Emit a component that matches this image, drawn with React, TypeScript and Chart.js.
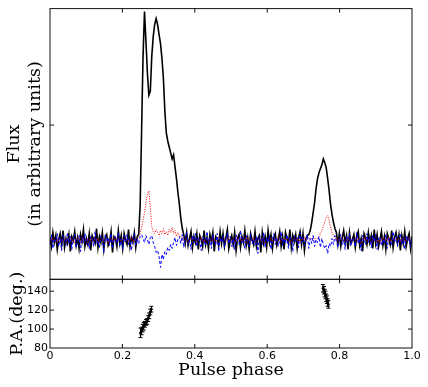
import React, { useEffect, useRef } from 'react';
import { Chart, registerables } from 'chart.js';

Chart.register(...registerables);

// Total intensity (black, solid), arbitrary units, baseline = 0
const totalFlux = [
  3, -6, 8, -2, 5, -9, 1, 7, -4, 10,
  -7, 2, -3, 6, -11, 4, 0, 9, -5, 3,
  -8, 6, -1, 11, -6, 2, -4, 7, -10, 5,
  1, -3, 12, -7, 4, -2, 8, -9, 3, 6,
  -5, -1, 9, -12, 4, 2, -6, 10, -3, 5,
  -8, 7, 0, -4, 11, -6, 3, -2, 8, -7,
  4, 6, 35, 110, 185, 230, 200, 168, 146, 150,
  185, 205, 217, 223, 217, 207, 198, 183, 163, 130,
  108, 100, 94, 88, 82, 86, 74, 62, 48, 36,
  22, 12, 6, -3, 8, -5, 2, 9, -7, 4,
  -2, 7, -9, 5, 1, -6, 10, -4, 3, -8,
  6, -1, 8, -11, 4, 2, -5, 9, -3, 7,
  -6, 3, 11, -8, 0, 5, -4, 8, -10, 2,
  6, -7, 4, -2, 10, -5, 3, -9, 7, 1,
  -4, 9, -6, 2, 5, -12, 8, -3, 4, -7,
  10, -2, 6, -8, 3, 7, -5, 1, 9, -6,
  4, -9, 8, 2, -3, 11, -7, 5, -1, 6,
  -8, 3, 9, -4, 7, -10, 2, 5, 6, 10,
  18, 28, 38, 52, 62, 68, 72, 76, 82, 78,
  73, 62, 50, 36, 26, 18, 12, 8, -4, 7,
  -6, 3, 10, -2, 5, -9, 8, -3, 1, 6,
  -7, 4, 9, -5, 2, -11, 7, 3, -4, 8,
  -2, 5, -8, 11, -3, 6, -6, 1, 9, -5,
  4, -9, 7, 2, -4, 10, -7, 3, 8, -2,
  6, -10, 5, -3, 9, -6, 2, 7, -8, 4,
];

// Linear polarization (red, dotted)
const linearPol = [
  2, -1, 3, 0, -2, 4, 1, -3, 2, 0,
  -1, 3, -2, 1, 4, -1, 2, -3, 0, 3,
  1, -2, 4, 0, -1, 2, -3, 1, 3, -2,
  0, 4, -1, 2, -2, 1, 3, -1, 0, 2,
  -3, 1, 2, -1, 4, 0, -2, 3, 1, -1,
  2, -2, 0, 3, -1, 1, 4, -2, 2, 0,
  1, 4, 7, 13, 21, 28, 38, 46, 50, 33,
  14, 9, 7, 11, 8, 5, 10, 7, 12, 6,
  9, 5, 11, 8, 13, 7, 10, 4, 8, 5,
  3, 2, -1, 1, 3, -2, 0, 2, -1, 3,
  1, -2, 2, 0, 3, -1, 1, -3, 2, 0,
  -1, 3, 0, 2, -2, 1, 4, -1, 0, 2,
  2, -1, 1, 3, -2, 0, 2, -3, 1, 3,
  0, 2, -1, 4, 1, -2, 3, 0, -1, 2,
  3, -2, 1, 0, 2, -1, 3, 1, -3, 2,
  -1, 1, 3, -2, 0, 2, -1, 4, 1, -2,
  2, 0, -1, 3, 1, -2, 2, 0, 3, -1,
  1, 3, -2, 2, 0, 4, -1, 2, 3, 1,
  2, 4, 1, 3, 2, 4, 7, 10, 14, 19,
  23, 25, 20, 14, 8, 5, 2, 3, -1, 2,
  0, 3, -2, 1, 2, -1, 4, 0, -2, 1,
  3, -1, 2, 0, -3, 2, 1, 4, -1, 0,
  2, -2, 1, 3, 0, -1, 2, -3, 1, 3,
  -1, 2, 0, 4, -2, 1, 3, -1, 0, 2,
  1, -2, 3, 0, 2, -1, 1, 3, -2, 0,
];

// Circular polarization (blue, dashed)
const circularPol = [
  -4, 6, -8, 2, -1, 7, -6, 3, -10, 5,
  1, -5, 8, -3, 4, -9, 2, 6, -7, 0,
  5, -11, 3, -2, 7, -4, 1, -8, 4, 2,
  -6, 9, -3, 0, -7, 5, 2, -12, 6, -1,
  3, -5, 7, -8, 1, 4, -3, 8, -6, 2,
  -9, 5, -2, 6, -4, 1, -10, 3, 7, -5,
  2, -3, 4, 6, 2, -2, 5, 1, -4, 3,
  5, -2, -6, -12, -10, -16, -27, -14, -19, -11,
  -14, -7, -10, -4, -8, -2, 3, -5, 1, 4,
  -3, 6, -7, 2, 8, -4, 0, -9, 5, -2,
  7, -6, 3, -1, -10, 4, 1, -5, 9, -3,
  2, -8, 6, 0, -4, 7, -11, 3, -2, 5,
  -7, 1, 8, -3, 4, -6, 2, -9, 6, 0,
  -4, 10, -2, 3, -8, 5, -1, -6, 7, -3,
  1, -5, 4, -13, 6, 2, -4, 8, -7, 3,
  -2, 5, -9, 1, 7, -4, 3, -6, 0, 9,
  -5, 2, -3, 6, -8, 4, 1, -11, 5, -1,
  3, -7, 8, -2, 4, -5, 0, 6, -8, 2,
  -3, 5, -6, 1, -2, 4, -7, 2, -4, -8,
  -5, -13, -3, -6, 2, -4, 5, -1, -7, 3,
  6, -4, 1, -9, 4, -2, 7, -5, 2, -1,
  -6, 8, -3, 2, -10, 5, 0, -4, 7, -2,
  3, -7, 5, -1, 6, -9, 2, 4, -5, 1,
  -3, 6, -8, 2, 0, -5, 9, -2, 4, -6,
  1, 7, -4, 3, -9, 5, -1, 2, -6, 4,
];

// Pulse phase of each bin
const phase = totalFlux.map((_, i) => i / (totalFlux.length - 1));

// Position angle points
const paPhase = [0.250, 0.253, 0.256, 0.259, 0.262, 0.265, 0.268, 0.271, 0.274, 0.277, 0.280,
  0.754, 0.757, 0.759, 0.761, 0.763, 0.765, 0.767, 0.769];
const paValue = [96, 98, 101, 103, 105, 107, 108, 111, 114, 118, 121,
  143, 141, 138, 136, 133, 131, 128, 126];
const paError = [5, 4, 4, 4, 3, 3, 3, 3, 3, 3, 3,
  4, 4, 4, 4, 4, 4, 4, 4];

const xTicks = [0, 0.2, 0.4, 0.6, 0.8, 1.0];
const xTickLabels = ['0', '0.2', '0.4', '0.6', '0.8', '1.0'];
const fluxTicks = [116];
const paTicks = [80, 100, 120, 140];
const paTickLabels = ['80', '100', '120', '140'];

const TITLE_FONT = { family: 'DejaVu Serif', size: 17.5, weight: 'normal' as const };
const TICK_FONT = { family: 'DejaVu Sans', size: 11 };

const framePlugin = {
  id: 'frameTicks',
  afterDatasetsDraw(chart: any) {
    const ctx = chart.ctx;
    const xs = chart.scales.x;
    const fs = chart.scales.flux;
    const ps = chart.scales.pa;
    const L = chart.chartArea.left;
    const R = chart.chartArea.right;
    ctx.save();
    // error bars
    ctx.strokeStyle = '#000';
    ctx.lineWidth = 1;
    ctx.beginPath();
    paPhase.forEach((ph, i) => {
      const px = xs.getPixelForValue(ph);
      const y1 = ps.getPixelForValue(paValue[i] + paError[i]);
      const y2 = ps.getPixelForValue(paValue[i] - paError[i]);
      ctx.moveTo(px, y1); ctx.lineTo(px, y2);
      ctx.moveTo(px - 2, y1); ctx.lineTo(px + 2, y1);
      ctx.moveTo(px - 2, y2); ctx.lineTo(px + 2, y2);
    });
    ctx.stroke();
    // frames
    ctx.strokeStyle = '#111';
    ctx.lineWidth = 1;
    ctx.strokeRect(L, fs.top, R - L, fs.bottom - fs.top);
    ctx.strokeRect(L, ps.top, R - L, ps.bottom - ps.top);
    // inward ticks
    const T = 4;
    ctx.beginPath();
    xs.ticks.forEach((t: any) => {
      if (t.value <= 0 || t.value >= 1) return;
      const px = xs.getPixelForValue(t.value);
      ([[fs.top, 1], [fs.bottom, -1], [ps.top, 1], [ps.bottom, -1]] as number[][]).forEach(([y, d]) => {
        ctx.moveTo(px, y); ctx.lineTo(px, y + d * T);
      });
    });
    [fs, ps].forEach((s: any) => {
      s.ticks.forEach((t: any) => {
        const py = s.getPixelForValue(t.value);
        if (py <= s.top + 0.5 || py >= s.bottom - 0.5) return;
        ctx.moveTo(L, py); ctx.lineTo(L + T, py);
        ctx.moveTo(R, py); ctx.lineTo(R - T, py);
      });
    });
    ctx.stroke();
    ctx.restore();
  },
};

export default function App() {
  const ref = useRef<HTMLCanvasElement>(null);
  useEffect(() => {
    if (!ref.current) return;
    const chart = new Chart(ref.current, {
      type: 'line',
      data: {
        datasets: [
          {
            label: 'Circular',
            data: phase.map((x, i) => ({ x, y: circularPol[i] })),
            yAxisID: 'flux',
            borderColor: '#0000ff',
            borderWidth: 1,
            borderDash: [3, 2],
            pointRadius: 0,
            tension: 0,
            order: 0,
          },
          {
            label: 'Linear',
            data: phase.map((x, i) => ({ x, y: linearPol[i] })),
            yAxisID: 'flux',
            borderColor: '#ff0000',
            borderWidth: 1,
            borderDash: [1, 1.5],
            pointRadius: 0,
            tension: 0,
            order: 1,
          },
          {
            label: 'Total',
            data: phase.map((x, i) => ({ x, y: totalFlux[i] })),
            yAxisID: 'flux',
            borderColor: '#000000',
            borderWidth: 1.6,
            pointRadius: 0,
            tension: 0,
            order: 2,
          },
          {
            label: 'PA',
            data: paPhase.map((x, i) => ({ x, y: paValue[i] })),
            yAxisID: 'pa',
            showLine: false,
            pointRadius: 1,
            pointBackgroundColor: '#000',
            pointBorderColor: '#000',
            borderColor: '#000',
            order: 0,
          },
        ],
      },
      options: {
        animation: false,
        responsive: false,
        events: [],
        layout: { padding: { top: 7, right: 16, bottom: 0, left: 0 } },
        plugins: { legend: { display: false }, tooltip: { enabled: false } },
        scales: {
          x: {
            type: 'linear',
            min: 0,
            max: 1,
            grid: { display: false, drawTicks: false },
            border: { display: false },
            afterBuildTicks: (s: any) => { s.ticks = xTicks.map((v) => ({ value: v })); },
            afterFit: (s: any) => { s.height = 39; },
            ticks: {
              color: '#000',
              font: TICK_FONT,
              padding: 2,
              maxRotation: 0,
              autoSkip: false,
              callback: (_v: any, i: number) => xTickLabels[i],
            },
            title: {
              display: true,
              text: 'Pulse phase',
              color: '#000',
              font: TITLE_FONT,
              padding: { top: 0, bottom: 6 },
            },
          },
          flux: {
            type: 'linear',
            position: 'left',
            stack: 'panels',
            stackWeight: 272,
            weight: 1,
            min: -39,
            max: 233,
            grid: { display: false, drawTicks: false },
            border: { display: false },
            afterBuildTicks: (s: any) => { s.ticks = fluxTicks.map((v) => ({ value: v })); },
            afterFit: (s: any) => { s.width = 50; },
            ticks: { display: false },
            title: {
              display: true,
              text: ['Flux', '(in arbitrary units)'],
              color: '#000',
              font: TITLE_FONT,
              padding: { top: 4, bottom: 0 },
            },
          },
          pa: {
            type: 'linear',
            position: 'left',
            stack: 'panels',
            stackWeight: 69,
            weight: 0,
            min: 80,
            max: 152.5,
            grid: { display: false, drawTicks: false },
            border: { display: false },
            afterBuildTicks: (s: any) => { s.ticks = paTicks.map((v) => ({ value: v })); },
            afterFit: (s: any) => { s.width = 50; },
            ticks: {
              color: '#000',
              font: TICK_FONT,
              padding: 2,
              autoSkip: false,
              callback: (_v: any, i: number) => paTickLabels[i],
            },
            title: {
              display: true,
              text: 'P.A.(deg.)',
              color: '#000',
              font: TITLE_FONT,
              padding: { top: 7, bottom: 0 },
            },
          },
        },
      },
      plugins: [framePlugin],
    } as any);
    return () => chart.destroy();
  }, []);
  return (
    <div style={{ position: 'absolute', left: 0, top: 0, width: 428, height: 387, background: '#fff' }}>
      <canvas ref={ref} width={428} height={387} style={{ display: 'block' }} />
    </div>
  );
}
